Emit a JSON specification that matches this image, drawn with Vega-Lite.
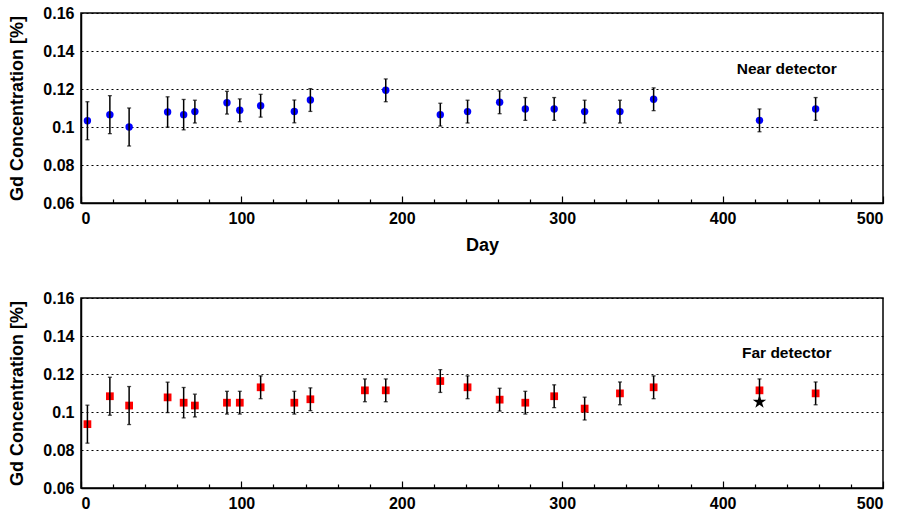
{
  "$schema": "https://vega.github.io/schema/vega-lite/v6.json",
  "background": "white",
  "padding": {"top": 4, "left": 8, "right": 10, "bottom": 0},
  "config": {
    "font": "Liberation Sans",
    "view": {"stroke": "black", "strokeWidth": 1.5},
    "concat": {"spacing": 34},
    "axis": {
      "labelFont": "Liberation Sans",
      "labelFontWeight": "bold",
      "labelFontSize": 16,
      "labelColor": "black",
      "titleFont": "Liberation Sans",
      "titleFontWeight": "bold",
      "titleColor": "black",
      "domainColor": "black",
      "domainWidth": 1.5,
      "tickColor": "black"
    }
  },
  "datasets": {
    "near": [
      {"day": 4, "gd": 0.1033, "err": 0.010},
      {"day": 18, "gd": 0.1065, "err": 0.010},
      {"day": 30, "gd": 0.1000, "err": 0.010},
      {"day": 54, "gd": 0.1079, "err": 0.008},
      {"day": 64, "gd": 0.1065, "err": 0.008},
      {"day": 71, "gd": 0.1081, "err": 0.006},
      {"day": 91, "gd": 0.1128, "err": 0.006},
      {"day": 99, "gd": 0.1088, "err": 0.006},
      {"day": 112, "gd": 0.1112, "err": 0.006},
      {"day": 133, "gd": 0.1082, "err": 0.006},
      {"day": 143, "gd": 0.1142, "err": 0.006},
      {"day": 190, "gd": 0.1193, "err": 0.006},
      {"day": 224, "gd": 0.1065, "err": 0.006},
      {"day": 241, "gd": 0.1081, "err": 0.006},
      {"day": 261, "gd": 0.1130, "err": 0.006},
      {"day": 277, "gd": 0.1095, "err": 0.006},
      {"day": 295, "gd": 0.1095, "err": 0.006},
      {"day": 314, "gd": 0.1081, "err": 0.006},
      {"day": 336, "gd": 0.1081, "err": 0.006},
      {"day": 357, "gd": 0.1146, "err": 0.006},
      {"day": 423, "gd": 0.1035, "err": 0.006},
      {"day": 458, "gd": 0.1095, "err": 0.006}
    ],
    "far": [
      {"day": 4, "gd": 0.0936, "err": 0.010},
      {"day": 18, "gd": 0.1083, "err": 0.010},
      {"day": 30, "gd": 0.1034, "err": 0.010},
      {"day": 54, "gd": 0.1077, "err": 0.008},
      {"day": 64, "gd": 0.1049, "err": 0.008},
      {"day": 71, "gd": 0.1034, "err": 0.006},
      {"day": 91, "gd": 0.1049, "err": 0.006},
      {"day": 99, "gd": 0.1049, "err": 0.006},
      {"day": 112, "gd": 0.1130, "err": 0.006},
      {"day": 133, "gd": 0.1049, "err": 0.006},
      {"day": 143, "gd": 0.1067, "err": 0.006},
      {"day": 177, "gd": 0.1114, "err": 0.006},
      {"day": 190, "gd": 0.1114, "err": 0.006},
      {"day": 224, "gd": 0.1163, "err": 0.006},
      {"day": 241, "gd": 0.1130, "err": 0.006},
      {"day": 261, "gd": 0.1065, "err": 0.006},
      {"day": 277, "gd": 0.1049, "err": 0.006},
      {"day": 295, "gd": 0.1083, "err": 0.006},
      {"day": 314, "gd": 0.1018, "err": 0.006},
      {"day": 336, "gd": 0.1098, "err": 0.006},
      {"day": 357, "gd": 0.1130, "err": 0.006},
      {"day": 423, "gd": 0.1114, "err": 0.006},
      {"day": 458, "gd": 0.1098, "err": 0.006}
    ],
    "farStar": [
      {"day": 423, "gd": 0.1053}
    ],
    "labels": [
      {"panel": "near", "day": 440, "gd": 0.1305, "text": "Near detector"},
      {"panel": "far", "day": 440, "gd": 0.131, "text": "Far detector"}
    ]
  },
  "vconcat": [
    {
      "width": 802,
      "height": 190,
      "encoding": {
        "x": {
          "field": "day", "type": "quantitative",
          "scale": {"domain": [0, 500], "nice": false, "zero": false},
          "axis": {
            "title": "Day", "titleFontSize": 18, "titlePadding": 10,
            "values": [0, 20, 40, 60, 80, 100, 120, 140, 160, 180, 200, 220, 240, 260, 280, 300, 320, 340, 360, 380, 400, 420, 440, 460, 480, 500],
            "labelExpr": "datum.value % 100 === 0 ? datum.label : ''",
            "tickSize": {"condition": {"test": "datum.value % 100 === 0", "value": -7}, "value": -4},
            "tickWidth": 1.2,
            "labelPadding": 14,
            "grid": false
          }
        },
        "y": {
          "field": "gd", "type": "quantitative",
          "scale": {"domain": [0.06, 0.16], "nice": false, "zero": false},
          "axis": {
            "title": "Gd Concentration [%]", "titleFontSize": 18, "titlePadding": 16,
            "values": [0.06, 0.08, 0.1, 0.12, 0.14, 0.16],
            "format": ".2~f",
            "ticks": false, "labelPadding": 7,
            "grid": true, "gridColor": "black", "gridDash": [2, 3], "gridWidth": 1.2, "gridOpacity": 1
          }
        }
      },
      "layer": [
        {
          "data": {"name": "near"},
          "mark": {"type": "point", "shape": "circle", "filled": true, "color": "#0000ff", "size": 55, "opacity": 1}
        },
        {
          "data": {"name": "near"},
          "mark": {"type": "errorbar", "ticks": {"size": 4, "color": "black", "thickness": 1.3}, "rule": {"color": "black", "strokeWidth": 1.5}},
          "encoding": {"yError": {"field": "err"}}
        },
        {
          "data": {"name": "labels"},
          "transform": [{"filter": "datum.panel === 'near'"}],
          "mark": {"type": "text", "font": "Liberation Sans", "fontWeight": "bold", "fontSize": 15.5, "color": "black"},
          "encoding": {"text": {"field": "text"}}
        }
      ]
    },
    {
      "width": 802,
      "height": 190,
      "encoding": {
        "x": {
          "field": "day", "type": "quantitative",
          "scale": {"domain": [0, 500], "nice": false, "zero": false},
          "axis": {
            "title": null,
            "values": [0, 20, 40, 60, 80, 100, 120, 140, 160, 180, 200, 220, 240, 260, 280, 300, 320, 340, 360, 380, 400, 420, 440, 460, 480, 500],
            "labelExpr": "datum.value % 100 === 0 ? datum.label : ''",
            "tickSize": {"condition": {"test": "datum.value % 100 === 0", "value": -7}, "value": -4},
            "tickWidth": 1.2,
            "labelPadding": 14,
            "grid": false
          }
        },
        "y": {
          "field": "gd", "type": "quantitative",
          "scale": {"domain": [0.06, 0.16], "nice": false, "zero": false},
          "axis": {
            "title": "Gd Concentration [%]", "titleFontSize": 18, "titlePadding": 16,
            "values": [0.06, 0.08, 0.1, 0.12, 0.14, 0.16],
            "format": ".2~f",
            "ticks": false, "labelPadding": 7,
            "grid": true, "gridColor": "black", "gridDash": [2, 3], "gridWidth": 1.2, "gridOpacity": 1
          }
        }
      },
      "layer": [
        {
          "data": {"name": "far"},
          "mark": {"type": "point", "shape": "square", "filled": true, "color": "#ff0000", "size": 60, "opacity": 1}
        },
        {
          "data": {"name": "far"},
          "mark": {"type": "errorbar", "ticks": {"size": 4, "color": "black", "thickness": 1.3}, "rule": {"color": "black", "strokeWidth": 1.5}},
          "encoding": {"yError": {"field": "err"}}
        },
        {
          "data": {"name": "farStar"},
          "mark": {"type": "point", "filled": true, "color": "black", "opacity": 1, "size": 200,
                   "shape": "M0,-1L0.2245,-0.309L0.9511,-0.309L0.3633,0.118L0.5878,0.809L0,0.382L-0.5878,0.809L-0.3633,0.118L-0.9511,-0.309L-0.2245,-0.309Z"}
        },
        {
          "data": {"name": "labels"},
          "transform": [{"filter": "datum.panel === 'far'"}],
          "mark": {"type": "text", "font": "Liberation Sans", "fontWeight": "bold", "fontSize": 15.5, "color": "black"},
          "encoding": {"text": {"field": "text"}}
        }
      ]
    }
  ]
}
